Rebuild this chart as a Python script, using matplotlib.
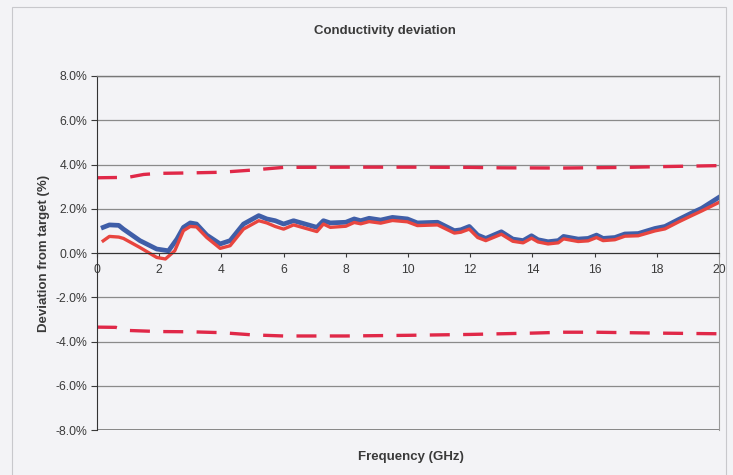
import matplotlib
matplotlib.use("Agg")
import matplotlib.pyplot as plt
import numpy as np
from matplotlib.ticker import FuncFormatter
from matplotlib.patches import Rectangle

plt.rcParams['font.family'] = ['Liberation Sans', 'DejaVu Sans']

# measured deviation, blue trace (GHz, %)
blue_f = [0.2, 0.4, 0.7, 0.85, 1.38, 1.92, 2.3, 2.57, 2.78, 3.0, 3.2, 3.53, 3.96, 4.28,
          4.71, 5.2, 5.46, 5.73, 6.0, 6.32, 7.07, 7.28, 7.5, 8.0, 8.27, 8.48, 8.75, 9.12,
          9.5, 9.98, 10.3, 10.95, 11.49, 11.7, 11.97, 12.24, 12.5, 13.0, 13.37, 13.7,
          13.97, 14.18, 14.5, 14.83, 15.0, 15.47, 15.79, 16.06, 16.27, 16.65, 16.97,
          17.4, 17.94, 18.26, 18.69, 19.12, 19.44, 20.0]
blue_v = [1.16, 1.27, 1.25, 1.08, 0.56, 0.18, 0.10, 0.63, 1.16, 1.36, 1.31, 0.81, 0.41, 0.56,
          1.31, 1.69, 1.54, 1.46, 1.31, 1.46, 1.16, 1.46, 1.36, 1.39, 1.54, 1.46, 1.57, 1.49,
          1.61, 1.54, 1.36, 1.39, 1.01, 1.05, 1.20, 0.81, 0.66, 0.96, 0.63, 0.56,
          0.78, 0.60, 0.51, 0.56, 0.75, 0.63, 0.66, 0.81, 0.66, 0.70, 0.86,
          0.88, 1.11, 1.20, 1.51, 1.81, 2.02, 2.52]

# measured deviation, red trace
red_f = [0.2, 0.4, 0.7, 0.85, 1.38, 1.92, 2.2, 2.5, 2.78, 3.0, 3.2, 3.53, 3.96, 4.28,
         4.71, 5.2, 5.46, 5.73, 6.0, 6.32, 7.07, 7.28, 7.5, 8.0, 8.27, 8.48, 8.75, 9.12,
         9.5, 9.98, 10.3, 10.95, 11.49, 11.7, 11.97, 12.24, 12.5, 13.0, 13.37, 13.7,
         13.97, 14.18, 14.5, 14.83, 15.0, 15.47, 15.79, 16.06, 16.27, 16.65, 16.97,
         17.4, 17.94, 18.26, 18.69, 19.12, 19.44, 20.0]
red_v = [0.55, 0.75, 0.72, 0.66, 0.25, -0.20, -0.27, 0.10, 1.01, 1.20, 1.18, 0.70, 0.21, 0.33,
         1.08, 1.46, 1.36, 1.20, 1.08, 1.27, 0.97, 1.31, 1.16, 1.21, 1.38, 1.32, 1.42, 1.35,
         1.47, 1.41, 1.24, 1.27, 0.90, 0.94, 1.08, 0.70, 0.56, 0.85, 0.53, 0.46,
         0.67, 0.50, 0.41, 0.46, 0.64, 0.52, 0.55, 0.70, 0.56, 0.60, 0.76,
         0.78, 1.00, 1.09, 1.40, 1.69, 1.90, 2.29]

# tolerance limits (dashed)
upper_f = [0, 1.0, 1.5, 2, 3, 4, 5, 6, 8, 10, 12, 13, 15, 17, 18, 20]
upper_v = [3.40, 3.42, 3.55, 3.60, 3.62, 3.65, 3.75, 3.87, 3.88, 3.88, 3.87, 3.85, 3.84, 3.87, 3.90, 3.95]
lower_f = [0, 0.6, 1.0, 2, 3, 4, 5, 6, 8, 10, 12, 14, 15, 16, 18, 20]
lower_v = [-3.35, -3.36, -3.50, -3.55, -3.56, -3.60, -3.70, -3.75, -3.75, -3.72, -3.68, -3.62, -3.58, -3.58, -3.62, -3.65]

yticks = [-8, -6, -4, -2, 0, 2, 4, 6, 8]
xticks = [0, 2, 4, 6, 8, 10, 12, 14, 16, 18, 20]

txt = '#3a3a3a'

fig = plt.figure(figsize=(7.33, 4.75), dpi=100, facecolor='#f3f3f6')
fig.patches.append(Rectangle((0.016, -0.02), 0.975, 1.005, transform=fig.transFigure,
                             fill=False, edgecolor='#c8c8cc', linewidth=0.8))
ax = fig.add_axes([0.1323, 0.0947, 0.8487, 0.7453])
ax.set_facecolor('#f3f3f6')

ax.plot(upper_f, upper_v, color='#e02848', linewidth=2.4, dashes=(6, 4))
ax.plot(lower_f, lower_v, color='#e02848', linewidth=2.4, dashes=(6, 4))
ax.plot(blue_f, blue_v, color='#3f5ea8', linewidth=3.4)
ax.plot(red_f, red_v, color='#e8453f', linewidth=2.4)

ax.set_xlim(0, 20)
ax.set_ylim(-8, 8)
ax.set_yticks(yticks)
ax.set_xticks(xticks)
ax.yaxis.set_major_formatter(FuncFormatter(lambda v, p: '%.1f%%' % v))
ax.grid(axis='y', color='#8a8a8a', linewidth=0.9)
ax.set_axisbelow(True)

ax.spines['bottom'].set_position(('data', 0))
ax.spines['bottom'].set_color('#333333')
ax.spines['left'].set_color('#333333')
ax.spines['top'].set_color('#777777')
ax.spines['right'].set_color('#9a9a9a')
ax.spines['top'].set_linewidth(1.0)

# bottom border of the plot area at -8%
ax.axhline(-8, color='#777777', linewidth=1.2)

ax.tick_params(axis='y', labelsize=8.8, colors=txt, length=4, pad=3)
ax.tick_params(axis='x', labelsize=8.8, colors=txt, length=3, pad=5)

ax.set_xlabel('Frequency (GHz)', fontsize=9.5, fontweight='bold', color=txt)
ax.xaxis.set_label_coords(0.505, -0.06)
ax.set_ylabel('Deviation from target (%)', fontsize=9.5, fontweight='bold', color=txt)
ax.yaxis.set_label_coords(-0.075, 0.5)
fig.text(0.525, 0.935, 'Conductivity deviation', fontsize=9.5, fontweight='bold',
         color=txt, ha='center', va='center')

fig.savefig('out.png', dpi=100, facecolor=fig.get_facecolor())
